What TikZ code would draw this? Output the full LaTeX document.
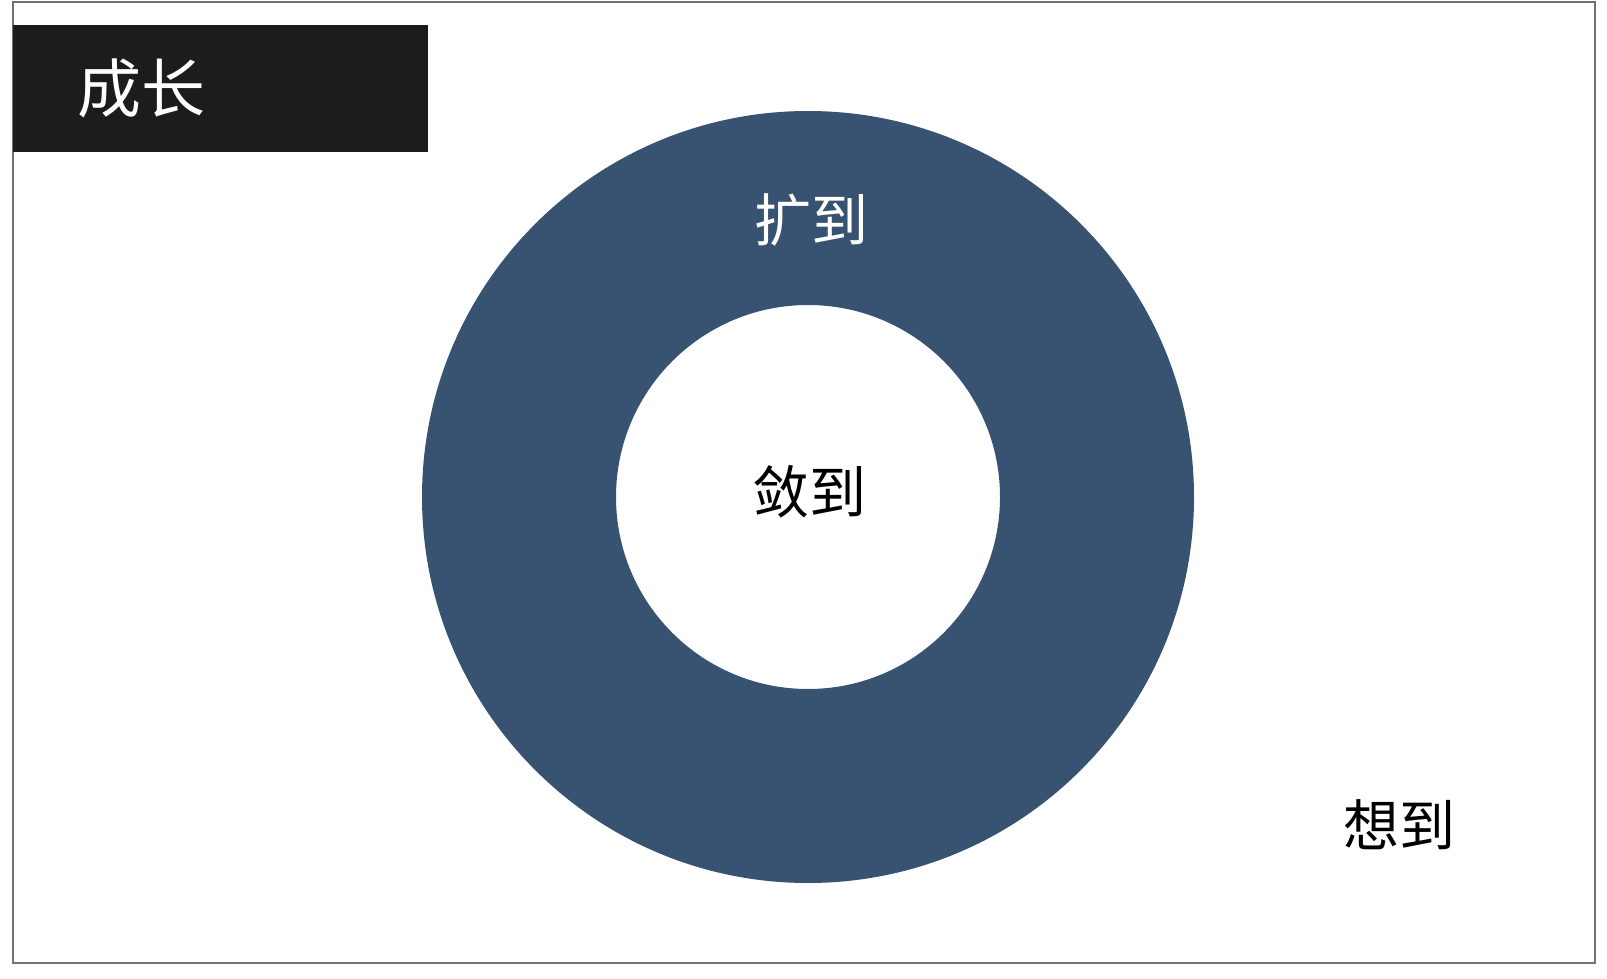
\documentclass[tikz,border=0pt]{standalone}
\usepackage{fontspec}
\newfontfamily\cjk{Noto Sans CJK SC}
\definecolor{ringblue}{RGB}{56,82,113}
\definecolor{titlebg}{RGB}{28,28,28}

\begin{document}
\begin{tikzpicture}[x = 0.5pt, y = -0.5pt]
%\draw [very thin, color = gray](0, 0) grid (1607, 979);
\useasboundingbox (0, 0) rectangle (1607, 979);
\fill [white] (0, 0) rectangle (1607, 979);
\draw [line width = 1.2pt, color = gray!90!black] (13, 2) rectangle (1595, 963);
\fill [titlebg] (13, 25) rectangle (428, 152);
\node [text = white, font = \cjk\fontsize{32}{32}\selectfont] (title) at (141, 88) {成长};
\fill [ringblue, even odd rule] (808, 497) circle [radius = 386] (808, 497) circle [radius = 192];
\node [text = white, font = \cjk\fontsize{28.5}{28.5}\selectfont] (outer) at (811, 220) {扩到};
\node [font = \cjk\fontsize{28.5}{28.5}\selectfont] (inner) at (809, 492) {敛到};
\node [font = \cjk\fontsize{28}{28}\selectfont] (beyond) at (1399, 825) {想到};
\end{tikzpicture}
\end{document}
